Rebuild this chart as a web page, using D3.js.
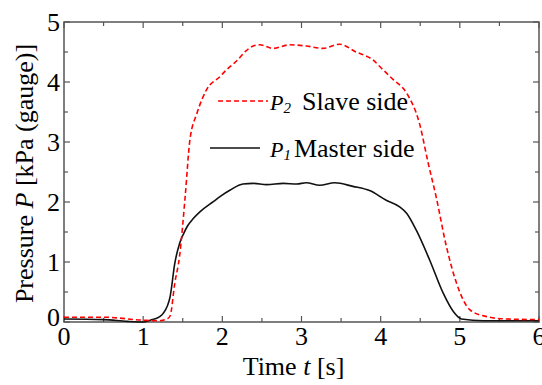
<!DOCTYPE html>
<html>
<head>
<meta charset="utf-8">
<script src="https://cdn.jsdelivr.net/npm/d3@7"></script>
<style>
  body { margin: 0; background: #fff; }
  svg { font-family: "Liberation Serif", "Times New Roman", serif; }
</style>
</head>
<body>
<div id="chart"></div>
<script>
// P2 (slave side), [time s, pressure kPa]
let slaveT = [0, 0.5, 1.0, 1.2, 1.3, 1.34, 1.4, 1.46, 1.53, 1.59, 1.68, 1.8, 1.97, 2.05, 2.18, 2.3, 2.39, 2.47, 2.64, 2.85, 3.06, 3.27, 3.48, 3.69, 3.9, 4.01, 4.15, 4.33, 4.49, 4.6, 4.7, 4.83, 4.96, 5.13, 5.34, 5.59, 6.0];
let slaveP = [0.08, 0.08, 0.03, 0.02, 0.05, 0.1, 0.65, 1.1, 2.08, 3.03, 3.48, 3.87, 4.09, 4.2, 4.35, 4.52, 4.6, 4.62, 4.56, 4.62, 4.6, 4.56, 4.63, 4.5, 4.37, 4.23, 4.05, 3.81, 3.31, 2.65, 2.09, 1.26, 0.64, 0.2, 0.09, 0.05, 0.04];
// P1 (master side)
let masterT = [0, 0.5, 0.8, 1.0, 1.09, 1.21, 1.25, 1.34, 1.4, 1.46, 1.51, 1.56, 1.63, 1.72, 1.89, 1.97, 2.1, 2.26, 2.39, 2.56, 2.77, 2.94, 3.06, 3.23, 3.42, 3.65, 3.86, 4.07, 4.24, 4.33, 4.45, 4.62, 4.79, 4.92, 5.02, 5.3, 6.0];
let masterP = [0.05, 0.04, 0.01, 0.0, 0.03, 0.09, 0.14, 0.42, 0.98, 1.31, 1.47, 1.6, 1.72, 1.84, 2.01, 2.09, 2.2, 2.3, 2.31, 2.29, 2.31, 2.3, 2.32, 2.28, 2.32, 2.26, 2.19, 2.03, 1.92, 1.81, 1.53, 1.03, 0.48, 0.17, 0.05, 0.02, 0.02];
let xTicks = [0, 1, 2, 3, 4, 5, 6];
let yTicks = [0, 1, 2, 3, 4, 5];

let width = 542, height = 385;
let margin = {top: 22, right: 3, bottom: 63, left: 64};
let w = width - margin.left - margin.right,
    h = height - margin.top - margin.bottom;
let fontSize = "26px";

let x = d3.scaleLinear().domain([0, 6]).range([0, w]);
let y = d3.scaleLinear().domain([0, 5]).range([h, 0]);

let svg = d3.select("#chart")
    .append("svg")
    .attr("width", width)
    .attr("height", height)
    .append("g")
    .attr("transform", "translate(" + margin.left + "," + margin.top + ")");

let axisColor = "#555";

// Frame
svg.append("rect")
    .attr("width", w)
    .attr("height", h)
    .attr("fill", "none")
    .attr("stroke", axisColor)
    .attr("stroke-width", 1.5);

// Inward ticks on all sides (major + minor)
let xMinor = d3.range(0, 6.01, 0.5);
let yMinor = d3.range(0, 5.01, 0.5);
function tickLen(v) { return Math.abs(v - Math.round(v)) < 1e-6 ? 6 : 4; }

let ticks = svg.append("g").attr("stroke", axisColor).attr("stroke-width", 1.2);
xMinor.forEach(function (v) {
    ticks.append("line").attr("x1", x(v)).attr("x2", x(v)).attr("y1", h).attr("y2", h - tickLen(v));
    ticks.append("line").attr("x1", x(v)).attr("x2", x(v)).attr("y1", 0).attr("y2", tickLen(v));
});
yMinor.forEach(function (v) {
    ticks.append("line").attr("y1", y(v)).attr("y2", y(v)).attr("x1", 0).attr("x2", tickLen(v));
    ticks.append("line").attr("y1", y(v)).attr("y2", y(v)).attr("x1", w).attr("x2", w - tickLen(v));
});

// Tick labels
svg.selectAll(".xlab")
    .data(xTicks)
    .enter()
    .append("text")
    .attr("x", function (d) { return x(d); })
    .attr("y", h + 23)
    .attr("text-anchor", "middle")
    .style("font-size", fontSize)
    .text(function (d) { return d; });

svg.selectAll(".ylab")
    .data(yTicks)
    .enter()
    .append("text")
    .attr("x", -4)
    .attr("y", function (d) { return y(d) + (d === 0 ? 4 : 8.5); }) // 0 sits a bit higher, clear of the x label
    .attr("text-anchor", "end")
    .style("font-size", fontSize)
    .text(function (d) { return d; });

// Axis titles
let xt = svg.append("text")
    .attr("x", 229.5)
    .attr("y", h + 53)
    .attr("text-anchor", "middle")
    .style("font-size", fontSize);
xt.append("tspan").text("Time ");
xt.append("tspan").style("font-style", "italic").text("t");
xt.append("tspan").text(" [s]");

let yt = svg.append("text")
    .attr("transform", "rotate(-90)")
    .attr("x", -151.5)
    .attr("y", -31)
    .attr("text-anchor", "middle")
    .style("font-size", fontSize);
yt.append("tspan").text("Pressure ");
yt.append("tspan").style("font-style", "italic").text("P");
yt.append("tspan").text(" [kPa (gauge)]");

// Lines
let line = d3.line()
    .x(function (d) { return x(d[0]); })
    .y(function (d) { return y(d[1]); })
    .curve(d3.curveMonotoneX);

svg.append("path")
    .datum(masterT.map(function (t, i) { return [t, masterP[i]]; }))
    .attr("d", line)
    .attr("fill", "none")
    .attr("stroke", "#111")
    .attr("stroke-width", 1.6);

svg.append("path")
    .datum(slaveT.map(function (t, i) { return [t, slaveP[i]]; }))
    .attr("d", line)
    .attr("fill", "none")
    .attr("stroke", "#ff0000")
    .attr("stroke-width", 1.6)
    .attr("stroke-dasharray", "5,3");

// Legend
let legend = svg.append("g");
legend.append("line")
    .attr("x1", 218 - margin.left).attr("x2", 268 - margin.left)
    .attr("y1", 101 - margin.top).attr("y2", 101 - margin.top)
    .attr("stroke", "#ff0000").attr("stroke-width", 1.6)
    .attr("stroke-dasharray", "5,3");
let l1 = legend.append("text")
    .attr("x", 270 - margin.left)
    .attr("y", 110 - margin.top)
    .style("font-size", fontSize);
l1.append("tspan").style("font-style", "italic").style("font-size", "22px").text("P");
l1.append("tspan").style("font-style", "italic").style("font-size", "15px").attr("dy", 3).text("2");
l1.append("tspan").attr("dy", -3).attr("dx", 11).text("Slave side");

legend.append("line")
    .attr("x1", 210 - margin.left).attr("x2", 260 - margin.left)
    .attr("y1", 148 - margin.top).attr("y2", 148 - margin.top)
    .attr("stroke", "#111").attr("stroke-width", 1.6);
let l2 = legend.append("text")
    .attr("x", 270 - margin.left)
    .attr("y", 157 - margin.top)
    .style("font-size", fontSize);
l2.append("tspan").style("font-style", "italic").style("font-size", "22px").text("P");
l2.append("tspan").style("font-style", "italic").style("font-size", "15px").attr("dy", 3).text("1");
l2.append("tspan").attr("dy", -3).attr("dx", 3).text("Master side");
</script>
</body>
</html>
